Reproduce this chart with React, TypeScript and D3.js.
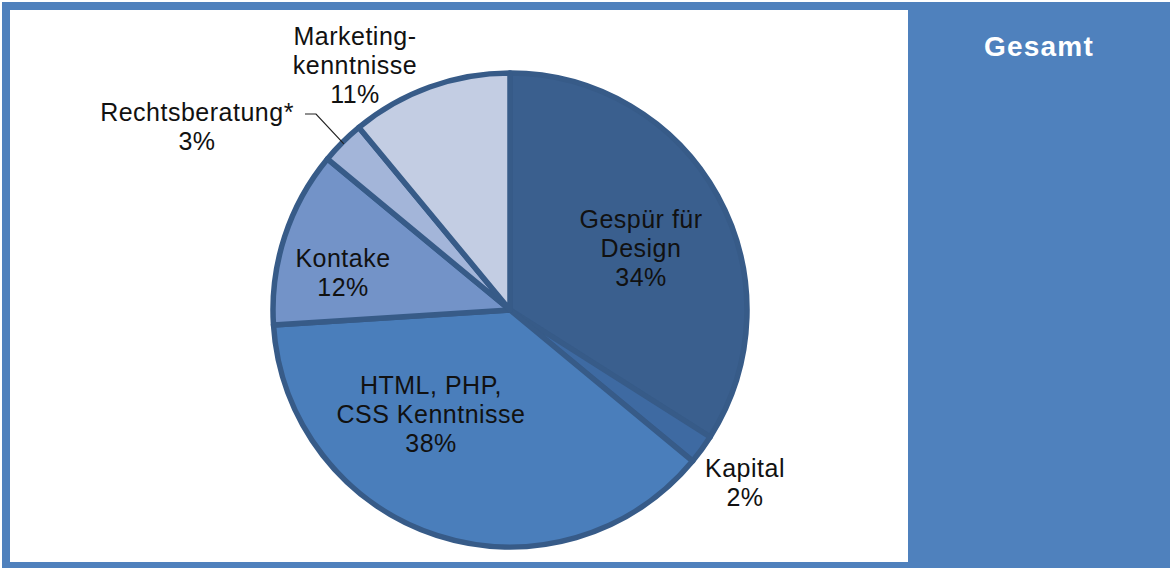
import { useEffect, useRef } from "react";
import * as d3 from "d3";

// Anteile je Kategorie (im Uhrzeigersinn ab 12 Uhr)
const categories = [
  "Gespür für Design",
  "Kapital",
  "HTML, PHP, CSS Kenntnisse",
  "Kontake",
  "Rechtsberatung*",
  "Marketingkenntnisse",
];
const shares = [34, 2, 38, 12, 3, 11];
// Beschriftungszeilen (ohne Prozentwert)
const labelLines = [
  ["Gespür für", "Design"],
  ["Kapital"],
  ["HTML,  PHP,", "CSS Kenntnisse"],
  ["Kontake"],
  ["Rechtsberatung*"],
  ["Marketing-", "kenntnisse"],
];
const title = "Gesamt";

const fills = ["#3a5f8e", "#3e6aa2", "#4a7ebb", "#7393c8", "#a3b5d9", "#c3cde3"];

// Lage der Beschriftungen relativ zum Mittelpunkt (x, y der ersten Grundlinie)
const labelPos = [
  [131, -82],
  [235, 167],
  [-79, 84],
  [-167, -43],
  [-313, -189],
  [-155, -265],
];

const App = () => {
  const svgRef = useRef(null);

  useEffect(() => {
    const W = 1171;
    const H = 569;
    const cx = 510;
    const cy = 310;
    const r = 237;
    const lineH = 29;

    const svg = d3.select(svgRef.current);
    svg.selectAll("*").remove();
    svg.attr("width", W).attr("height", H);

    // Rahmen
    svg.append("rect").attr("x", 2).attr("y", 2).attr("width", 1168).attr("height", 566).attr("fill", "#4f81bd");
    svg.append("rect").attr("x", 10).attr("y", 10).attr("width", 898).attr("height", 552).attr("fill", "#fff");

    svg
      .append("text")
      .attr("x", 1039)
      .attr("y", 56)
      .attr("text-anchor", "middle")
      .attr("fill", "#fff")
      .attr("font-family", "Liberation Sans, Arial, sans-serif")
      .attr("font-weight", "bold")
      .attr("font-size", 28)
      .attr("letter-spacing", 1.2)
      .text(title);

    const data = categories.map((c, i) => ({ name: c, value: shares[i], i }));
    const pie = d3.pie<any>().value((d) => d.value).sort(null);
    const arc = d3.arc<any>().innerRadius(0).outerRadius(r);

    const g = svg.append("g").attr("transform", `translate(${cx},${cy})`);

    g.selectAll("path")
      .data(pie(data))
      .enter()
      .append("path")
      .attr("d", arc)
      .attr("fill", (d) => fills[d.data.i])
      .attr("stroke", "#375b88")
      .attr("stroke-width", 5.5)
      .attr("stroke-linejoin", "round");

    // Führungslinie für Rechtsberatung
    const arcs = pie(data);
    const ra = arcs[4];
    const mid = (ra.startAngle + ra.endAngle) / 2;
    const edge = [Math.sin(mid) * (r - 2), -Math.cos(mid) * (r - 2)];
    const lx = labelPos[4][0] + 108;
    const ly = labelPos[4][1] - 7;
    g.append("path")
      .attr("d", `M${lx},${ly}H${lx + 11}L${edge[0]},${edge[1]}`)
      .attr("fill", "none")
      .attr("stroke", "#222")
      .attr("stroke-width", 1.2);

    const labels = g
      .selectAll("text.lbl")
      .data(data)
      .enter()
      .append("text")
      .attr("class", "lbl")
      .attr("text-anchor", "middle")
      .attr("fill", "#111")
      .attr("font-family", "Liberation Sans, Arial, sans-serif")
      .attr("font-size", 25)
      .attr("letter-spacing", 0.5)
      .attr("transform", (d) => `translate(${labelPos[d.i][0]},${labelPos[d.i][1]})`);

    labels.each(function (d) {
      const t = d3.select(this);
      const lines = [...labelLines[d.i], `${d.value}%`];
      lines.forEach((l, k) => {
        t.append("tspan").attr("x", 0).attr("y", k * lineH).text(l);
      });
    });
  }, []);

  return (
    <div>
      <svg ref={svgRef} style={{ position: "absolute", left: 0, top: 0 }}></svg>
    </div>
  );
};

export default App;
